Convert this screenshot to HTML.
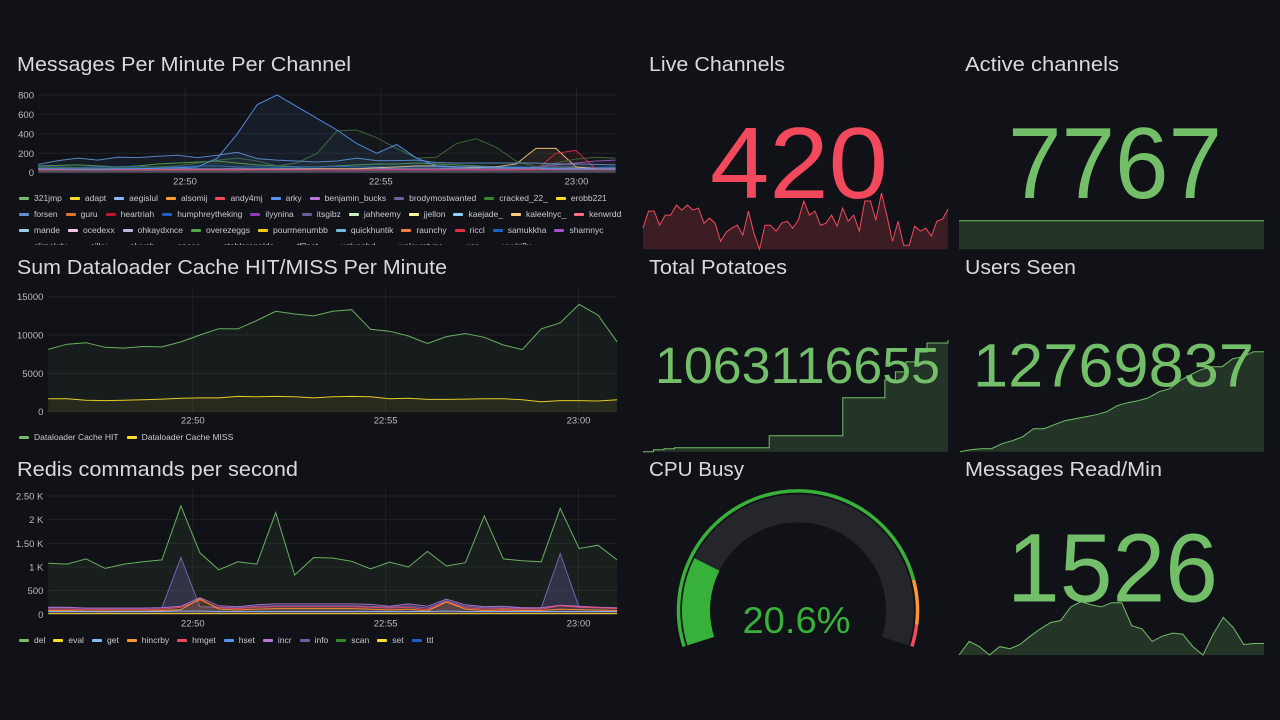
<!DOCTYPE html>
<html><head><meta charset="utf-8"><style>
html,body{margin:0;padding:0;background:#111217;width:1280px;height:720px;overflow:hidden;font-family:"Liberation Sans",sans-serif}
svg{position:absolute;left:0;top:0}
.legend{position:absolute;left:19px;font-size:8.5px;color:#c7cad1;line-height:16px;overflow:hidden}
.legend .row{display:flex;white-space:nowrap}
.li{display:flex;align-items:center;margin-right:8px}
.li i{display:inline-block;width:10px;height:3px;border-radius:1px;margin-right:5px}
</style></head><body>
<svg id="svg" width="1280" height="720"></svg>
<div class="legend" id="leg1" style="top:190px;width:610px;height:55px"></div>
<div class="legend" id="leg2" style="top:429px;width:610px;height:16px"></div>
<div class="legend" id="leg3" style="top:632px;width:610px;height:16px"></div>
<script>
// ---------- Panel 1: messages per minute per channel ----------
const p1Names = ["arky","forsen","cracked_22_","riccl","kaleelnyc_","humphreytheking","overezeggs","shamnyc","benjamin_bucks","andy4mj"];
const p1Colors = ["#5794f2","#5f8fcf","#3f6b3a","#e02f44","#ffcb7d","#1f60c4","#56a64b","#a352cc","#b877d9","#f2495c"];
const p1Arky = [40,40,35,35,40,40,45,50,60,150,400,700,800,680,560,440,300,200,290,150,70,60,60,50,50,50,40,40,40,40];
const p1Forsen = [85,125,150,130,160,155,170,180,155,180,210,145,130,120,110,120,150,125,125,130,105,100,100,100,100,100,90,90,85,80];
const p1Cracked = [50,55,50,45,50,55,60,70,100,130,150,120,70,100,200,430,440,360,250,150,160,300,350,260,120,60,100,140,160,150];
const p1Riccl = [30,30,30,30,30,30,30,30,30,30,30,30,30,30,30,30,30,30,30,30,30,30,30,30,30,30,200,230,40,40];
const p1Kaleel = [30,30,30,30,30,30,30,30,30,30,30,35,35,35,40,40,40,50,60,70,70,60,50,60,90,250,250,60,40,40];
const p1Humph = [60,60,55,60,60,65,60,60,70,70,60,60,55,60,60,65,60,60,55,60,60,55,60,60,60,55,60,60,55,60];
const p1Over = [70,75,80,70,60,70,90,100,110,120,100,80,70,60,60,70,80,90,90,100,90,80,70,60,50,50,60,50,50,50];
const p1Sham = [30,30,30,30,30,30,30,30,30,30,30,30,30,30,30,30,30,30,30,30,30,30,30,30,30,60,80,100,120,130];
const p1Benj = [40,40,40,45,40,40,45,45,40,40,45,40,40,45,40,40,40,45,40,40,40,45,40,40,40,40,45,40,40,40];
const p1Andy = [30,35,30,30,35,30,30,35,30,30,30,35,30,30,35,30,30,30,35,30,30,35,30,30,30,35,30,30,30,30];
const p1YTicks = [0,200,400,600,800];
const xTickTimes = [4,9,14];
const xTickLabels = ["22:50","22:55","23:00"];
const p1Legend = [
 [["321jmp","#73bf69"],["adapt","#fade2a"],["aegislul","#8ab8ff"],["alsomij","#ff9830"],["andy4mj","#f2495c"],["arky","#5794f2"],["benjamin_bucks","#b877d9"],["brodymostwanted","#705da0"],["cracked_22_","#37872d"],["erobb221","#fade2a"]],
 [["forsen","#5f8fcf"],["guru","#e0752d"],["heartriah","#c4162a"],["humphreytheking","#1f60c4"],["ilyynina","#8f3bb8"],["itsgibz","#6b5d95"],["jahheemy","#c8f2c2"],["jjellon","#fff899"],["kaejade_","#8ed0f5"],["kaleelnyc_","#ffcb7d"],["kenwrdd","#ff7383"]],
 [["mande","#a0cbe8"],["ocedexx","#f5c6ea"],["ohkaydxnce","#c0b6e0"],["overezeggs","#56a64b"],["pourmenumbb","#f2cc0c"],["quickhuntik","#73b7d9"],["raunchy","#ff7a45"],["riccl","#e02f44"],["samukkha","#1f60c4"],["shamnyc","#a352cc"]],
 [["slimekdu","#73bf69"],["silky","#fade2a"],["sluyeb","#8ab8ff"],["space","#ff9830"],["stablerenalds","#f2495c"],["tf2pet","#5794f2"],["xqlusahd","#b877d9"],["walcurstype","#705da0"],["xqc","#37872d"],["yuuki2u","#fade2a"]]
];
// ---------- Panel 2: dataloader cache ----------
const p2Hit = [8130,8800,9000,8400,8300,8500,8450,9100,10000,10830,10800,11900,13100,12740,12500,13100,13300,10750,10500,9870,8900,9800,10200,9700,8700,8100,10800,11600,14000,12600,9100];
const p2Miss = [1700,1700,1500,1450,1500,1550,1650,1750,1800,1800,2000,1950,2000,1950,1800,1950,2000,1950,1700,1750,1600,1600,1650,1700,1700,1550,1300,1450,1450,1400,1550];
const p2YTicks = [0,5000,10000,15000];
// ---------- Panel 3: redis ----------
const p3Del = [1077,1060,1170,970,1060,1110,1150,2290,1300,940,1110,1060,2150,830,1200,1190,1120,960,1100,1000,1330,1020,1090,2080,1170,1130,1110,2240,1390,1460,1150];
const p3Info = [140,140,130,130,130,130,140,1200,160,150,140,170,180,180,180,180,180,170,150,180,130,290,170,140,140,130,130,1280,150,140,130];
const p3Incr = [150,150,130,130,130,130,140,170,350,180,160,200,220,220,220,220,220,210,170,220,170,320,200,160,170,140,140,190,170,150,140];
const p3Hmget = [110,110,100,100,100,100,110,150,300,140,120,150,160,160,160,160,160,150,130,150,100,270,140,110,120,110,110,180,150,140,120];
const p3Hincrby = [80,80,70,70,70,70,80,100,330,110,90,110,120,120,120,120,120,110,90,110,70,260,110,80,90,80,80,110,100,90,80];
const p3Get = [60,60,60,55,60,60,60,70,70,60,60,60,60,60,60,60,60,60,60,60,60,70,60,60,60,60,60,60,60,60,60];
const p3Low = [15,15,15,15,15,15,15,15,15,15,15,15,15,15,15,15,15,15,15,15,15,15,15,15,15,15,15,15,15,15,15];
const p3YTicks = [0,500,1000,1500,2000,2500];
const p3YLabels = ["0","500","1 K","1.50 K","2 K","2.50 K"];
const p3LegendNames = ["del","eval","get","hincrby","hmget","hset","incr","info","scan","set","ttl"];
const p3LegendColors = ["#73bf69","#fade2a","#8ab8ff","#ff9830","#f2495c","#5794f2","#b877d9","#705da0","#37872d","#fade2a","#1f60c4"];
// ---------- Stats ----------
const liveSpark = [401,418,418,404,414,414,424,419,424,419,421,406,411,406,388,397,401,404,394,418,396,380,404,404,398,406,408,401,409,428,414,418,404,406,414,403,421,408,414,398,428,428,409,436,413,388,408,384,384,403,398,401,393,408,410,420];
const activeSpark = [7767,7767,7767,7767,7767,7767,7767,7767,7767,7767];
const potatoSpark = [0,2,3,4,4,4,4,4,4,4,4,4,16,16,16,16,16,16,16,54,54,54,54,72,80,90,100,109,109,112];
const usersSpark = [0,2,3,3,8,11,15,23,23,27,31,33,35,37,40,46,49,51,54,60,63,71,77,82,85,85,93,95,100,100];
const readSpark = [2,15,10,2,10,8,12,20,27,33,35,48,53,50,48,52,52,30,27,15,20,23,22,10,2,22,38,28,12,13,13];
const cpuValue = 20.6;
const cpuThresholds = [[0,85,"#37b13a"],[85,95,"#ff9830"],[95,100,"#f2495c"]];

const NS="http://www.w3.org/2000/svg", svg=document.getElementById('svg');
function el(tag,attrs,parent){const e=document.createElementNS(NS,tag);for(const k in attrs)e.setAttribute(k,attrs[k]);(parent||svg).appendChild(e);return e;}
function txt(s,attrs,parent){const e=el('text',attrs,parent);e.textContent=s;return e;}
function times(n){const a=[];for(let i=0;i<n;i++)a.push(0.25+i*14.75/(n-1));return a;}

function title(s,x,y,len,name){const t=txt(s,{x:x,y:y,fill:"#d8d9da","font-size":20,textLength:len,lengthAdjust:"spacingAndGlyphs"});}
title("Messages Per Minute Per Channel",17,71,334,"messages-title");
title("Sum Dataloader Cache HIT/MISS Per Minute",17,274,430,"cache-title");
title("Redis commands per second",17,476,281,"redis-title");
title("Live Channels",649,71,136,"live-channels-title");
title("Active channels",965,71,154,"active-channels-title");
title("Total Potatoes",649,274,138,"total-potatoes-title");
title("Users Seen",965,274,111,"users-seen-title");
title("CPU Busy",649,476,95,"cpu-busy-title");
title("Messages Read/Min",965,476,197,"messages-read-title");

function tsPanel(cfg){
  const g=el('g',{});
  const X=t=>cfg.xA+(t-4)*cfg.xs, Y=v=>cfg.y0-(v/cfg.vmax)*(cfg.y0-cfg.yTop);
  cfg.yTicks.forEach((v,i)=>{
    const l=el('line',{x1:cfg.xL,x2:cfg.xR+10,y1:Y(v),y2:Y(v),stroke:"rgba(204,204,220,0.08)"},g);
    
    const t=txt(cfg.yLabels?cfg.yLabels[i]:String(v),{x:cfg.xL-4,y:Y(v)+3.5,fill:"#b9bcc4","font-size":9.5,"text-anchor":"end"},g);
    
  });
  xTickTimes.forEach((tt,i)=>{
    const l=el('line',{x1:X(tt),x2:X(tt),y1:cfg.yTop-8,y2:cfg.y0,stroke:"rgba(204,204,220,0.08)"},g);
    
    const t=txt(xTickLabels[i],{x:X(tt),y:cfg.y0+12,fill:"#b9bcc4","font-size":9.5,"text-anchor":"middle"},g);
    
  });
  cfg.series.forEach(s=>{
    const ts=times(s.data.length);
    let d=s.data.map((v,i)=>(i?'L':'M')+X(ts[i]).toFixed(1)+','+Y(v).toFixed(1)).join('');
    const a=el('path',{d:d+'L'+X(ts[ts.length-1]).toFixed(1)+','+cfg.y0+'L'+X(ts[0]).toFixed(1)+','+cfg.y0+'Z',fill:s.color,"fill-opacity":s.fo||0.08,stroke:"none"},g);
    
    const p=el('path',{d:d,fill:"none",stroke:s.color,"stroke-width":1,"stroke-opacity":0.9},g);
    
  });
}
tsPanel({name:"messages-chart",xA:185,xs:39.15,xL:38,xR:607,y0:172.7,yTop:95,vmax:800,yTicks:p1YTicks,
  series:[{name:"andy4mj",data:p1Andy,color:p1Colors[9]},{name:"benjamin_bucks",data:p1Benj,color:p1Colors[8]},{name:"overezeggs",data:p1Over,color:p1Colors[6]},{name:"humphreytheking",data:p1Humph,color:p1Colors[5]},{name:"shamnyc",data:p1Sham,color:p1Colors[7]},{name:"kaleelnyc_",data:p1Kaleel,color:p1Colors[4]},{name:"riccl",data:p1Riccl,color:p1Colors[3]},{name:"cracked_22_",data:p1Cracked,color:p1Colors[2]},{name:"forsen",data:p1Forsen,color:p1Colors[1]},{name:"arky",data:p1Arky,color:p1Colors[0]}]});
tsPanel({name:"cache-chart",xA:192.8,xs:38.57,xL:47.4,xR:607,y0:411.7,yTop:296.7,vmax:15000,yTicks:p2YTicks,
  series:[{name:"hit",data:p2Hit,color:"#73bf69",fo:0.07},{name:"miss",data:p2Miss,color:"#fade2a",fo:0.07}]});
tsPanel({name:"redis-chart",xA:192.8,xs:38.57,xL:47.4,xR:607,y0:614.3,yTop:496,vmax:2500,yTicks:p3YTicks,yLabels:p3YLabels,
  series:[{name:"del",data:p3Del,color:"#73bf69",fo:0.08},{name:"info",data:p3Info,color:"#7a6cc0",fo:0.25},{name:"incr",data:p3Incr,color:"#b877d9",fo:0.05},{name:"hmget",data:p3Hmget,color:"#f2495c",fo:0.05},{name:"hincrby",data:p3Hincrby,color:"#ff9830",fo:0.15},{name:"get",data:p3Get,color:"#8ab8ff",fo:0.05},{name:"eval",data:p3Low,color:"#fade2a",fo:0.05}]});

function legend(id,rows){
  const box=document.getElementById(id);
  rows.forEach(r=>{
    const row=document.createElement('div');row.className='row';
    r.forEach(([n,c])=>{
      const it=document.createElement('div');it.className='li';
      
      
      it.innerHTML='<i style="background:'+c+'"></i>'+n;row.appendChild(it);
    });
    box.appendChild(row);
  });
}
legend('leg1',p1Legend);
legend('leg2',[[["Dataloader Cache HIT","#73bf69"],["Dataloader Cache MISS","#fade2a"]]]);
legend('leg3',[p3LegendNames.map((n,i)=>[n,p3LegendColors[i]])]);

function spark(data,x0,x1,yBase,yTop,color,name,flatY){
  const mn=Math.min(...data),mx=Math.max(...data);
  const Y=v=>mx===mn?flatY:yBase-(v-mn)/(mx-mn)*(yBase-yTop);
  const X=i=>x0+i*(x1-x0)/(data.length-1);
  const d=data.map((v,i)=>(i?'L':'M')+X(i).toFixed(1)+','+Y(v).toFixed(1)).join('');
  const a=el('path',{d:d+'L'+x1+','+yBase+'L'+x0+','+yBase+'Z',fill:color,"fill-opacity":0.2});
  
  const p=el('path',{d:d,fill:"none",stroke:color,"stroke-width":1});
  
}
function stepSpark(data,x0,x1,yBase,yTop,color,name){
  const mx=Math.max(...data),X=i=>x0+i*(x1-x0)/(data.length-1),Y=v=>yBase-v/mx*(yBase-yTop);
  let d='M'+X(0)+','+Y(data[0]);
  for(let i=1;i<data.length;i++){d+='L'+X(i).toFixed(1)+','+Y(data[i-1]).toFixed(1)+'L'+X(i).toFixed(1)+','+Y(data[i]).toFixed(1);}
  const a=el('path',{d:d+'L'+x1+','+yBase+'L'+x0+','+yBase+'Z',fill:color,"fill-opacity":0.2});
  
  const p=el('path',{d:d,fill:"none",stroke:color,"stroke-width":1});
  
}
spark(liveSpark,643,948,249.3,193,"#f2495c","live-channels-spark");
spark(activeSpark,959,1264,249.3,193,"#73bf69","active-channels-spark",220.7);
stepSpark(potatoSpark,643,948,451.7,340,"#73bf69","total-potatoes-spark");
spark(usersSpark,960,1264,451.7,351.7,"#73bf69","users-seen-spark");
spark(readSpark,959,1264,655,601.7,"#73bf69","messages-read-spark");

function big(s,x,y,size,len,color,name){const t=txt(s,{x:x,y:y,fill:color,"font-size":size,textLength:len,lengthAdjust:"spacingAndGlyphs"});}
big("420",710,198,101,178,"#f2495c","live-channels-value");
big("7767",1008,198,101,214,"#73bf69","active-channels-value");
big("1063116655",655,383,51,285,"#73bf69","total-potatoes-value");
big("12769837",973,386.7,61,281,"#73bf69","users-seen-value");
big("1526",1007,601.7,97,211,"#73bf69","messages-read-value");

// gauge
const cx=798,cy=610.3,span=107.6;
function pt(a,r){const rad=a*Math.PI/180;return [cx+r*Math.sin(rad),cy-r*Math.cos(rad)];}
function arc(a1,a2,r){const p1=pt(a1,r),p2=pt(a2,r);return 'M'+p1[0].toFixed(2)+','+p1[1].toFixed(2)+'A'+r+','+r+' 0 '+((a2-a1)>180?1:0)+' 1 '+p2[0].toFixed(2)+','+p2[1].toFixed(2);}
const A=f=>-span+f/100*2*span;
const bg=el('path',{d:arc(A(0),A(100),102),fill:"none",stroke:"#24262c","stroke-width":28});

const fillArc=el('path',{d:arc(A(0),A(cpuValue),102),fill:"none",stroke:"#37b13a","stroke-width":28});

cpuThresholds.forEach(th=>{
  const t=el('path',{d:arc(A(th[0]),A(th[1]),119.5),fill:"none",stroke:th[2],"stroke-width":3.5});
  
});
const gt=txt(cpuValue.toFixed(1)+"%",{x:796.5,y:633,fill:"#37b13a","font-size":37,"text-anchor":"middle",textLength:108,lengthAdjust:"spacingAndGlyphs"});

</script>
</body></html>
